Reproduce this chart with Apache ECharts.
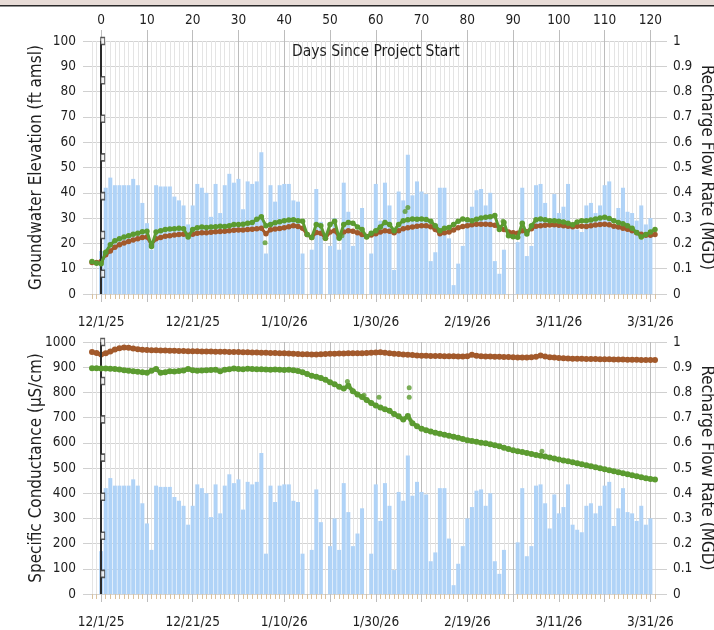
<!DOCTYPE html>
<html>
<head>
<meta charset="utf-8">
<script src="https://cdn.jsdelivr.net/npm/echarts@6/dist/echarts.min.js"></script>
<style>html,body{margin:0;padding:0;background:#fff}#c{width:714px;height:630px}</style>
</head>
<body>
<div id="c"></div>
<script>
// ---------------- DATA ----------------
const firstDay = -2;            // first logged day of the sensor series
const projectStartDay = 0;
const dayTicks = [0,10,20,30,40,50,60,70,80,90,100,110,120];
const dateTicks = [0,20,40,60,80,100,120];
const dateLabels = ['12/1/25','12/21/25','1/10/26','1/30/26','2/19/26','3/11/26','3/31/26'];

// Recharge flow rate (MGD), days 0..120
const recharge = [
  0.17,0.42,0.46,0.43,0.43,0.43,0.43,0.455,0.43,0.36,
  0.28,0.175,0.43,0.425,0.425,0.425,0.385,0.37,0.35,0.275,
  0.35,0.435,0.42,0.40,0.305,0.435,0.32,0.43,0.475,0.44,
  0.455,0.335,0.445,0.435,0.445,0.56,0.16,0.43,0.365,0.43,
  0.435,0.435,0.37,0.365,0.16,0,0.175,0.415,0.285,0,
  0.19,0.30,0.175,0.44,0.325,0.19,0.24,0.34,0,0.16,
  0.435,0.29,0.44,0.35,0.095,0.405,0.37,0.55,0.39,0.445,
  0.405,0.395,0.13,0.165,0.42,0.42,0.22,0.035,0.12,0.19,
  0.30,0.345,0.41,0.415,0.35,0.40,0.13,0.08,0.175,0,
  0,0.205,0.42,0.15,0.19,0.43,0.435,0.36,0.26,0.395,
  0.32,0.345,0.435,0.275,0.255,0.245,0.35,0.36,0.32,0.35,
  0.43,0.445,0.27,0.34,0.42,0.325,0.32,0.29,0.35,0.275,
  0.30
];

// Groundwater elevation (ft amsl), days -2..121
const gwBrown = [
  12.5,12.5,
  12.8,15.5,17,18.5,19.5,20.2,20.8,21.3,21.8,22.3,
  22.5,19.5,21.8,22.3,22.8,23,23.3,23.5,23.6,23.2,
  23.6,24,24.2,24.2,24.4,24.6,24.7,24.8,25,25.2,
  25.3,25.3,25.5,25.6,25.8,26,23.8,25.4,25.7,25.9,
  26.2,26.6,27,26.7,26,23.5,22.3,24.3,24,22,
  24.5,25,22.6,24.5,25,24.8,24.2,23.5,22.7,23.3,
  23.8,24.5,25,24.8,24.2,25,25.8,26.2,26.5,26.8,
  27,27,26.6,25.5,23.8,24.2,24.5,25.3,26.2,26.7,
  27,27.4,27.6,27.6,27.6,27.5,27.2,26.3,25.5,24.5,
  24.2,24,25,24.6,25.8,26.8,27,27.2,27.3,27.4,
  27.2,27,26.8,26.6,26.8,26.8,26.7,27,27.3,27.5,
  27.6,27.4,26.8,26.5,26,25.6,25,24.2,23.6,23.2,
  23.2,23.5
];
const gwGreen = [
  12.8,12.2,
  12,16.5,19.5,21,21.8,22.5,23,23.6,24,24.6,
  24.8,18.8,24.5,25,25.5,25.7,25.8,26,25.8,22.5,
  25.5,26.2,26.5,26.3,26.5,26.6,26.8,26.7,27,27.5,
  27.5,27.6,28,28.3,29.5,30.5,27,27.5,28.2,28.6,
  29,29.2,29.3,29,28.8,23.5,22.3,27.5,27,22,
  27.5,28.8,22,27.5,28.3,28,26.5,25.5,22.5,24,
  25,26.5,28.3,27.5,25,27.5,29,29.3,29.6,29.5,
  29.6,29.4,28.8,27,25,26,26.3,27.5,28.8,29.6,
  29.3,29,29.5,30,30.3,30.5,31,25.5,28.3,23,
  22.6,22.4,28,23.7,27,29.3,29.6,29.3,29,29,
  28.8,28.5,28,27.4,28.5,29,29,29.2,29.6,30,
  30.3,29.8,29,28.3,27.8,27,26,24.3,22.5,23.5,
  24.5,25.5
];
const gwGreenOutliers = [[35.8,20.3],[66.4,32.6],[67.0,34.2],[87.8,28.8],[52.6,23.0]];

// Specific conductance (uS/cm), days -2..121
const ecBrown = [
  960,956,
  950,955,962,970,975,978,977,974,971,969,
  968,967,967,966,966,965,965,964,964,963,
  963,963,962,962,962,961,961,961,960,960,
  960,959,959,958,958,957,957,956,956,955,
  955,954,953,952,951,951,950,950,951,952,
  953,953,954,954,955,955,955,955,956,957,
  958,959,957,955,953,952,950,949,948,946,
  945,945,944,944,944,943,943,943,942,942,
  943,949,945,943,942,942,941,941,940,940,
  939,938,938,938,939,941,946,942,939,938,
  937,936,935,934,934,934,933,933,933,932,
  932,932,931,931,931,930,930,930,929,929,
  929,929
];
const ecGreen = [
  896,896,
  895,895,894,893,891,888,886,884,882,880,
  878,886,893,878,880,884,883,885,887,893,
  888,886,887,888,889,890,884,890,892,895,
  893,892,894,893,892,892,891,890,891,890,
  889,890,888,885,880,873,866,862,857,850,
  840,832,822,815,826,805,792,782,770,758,
  748,740,733,727,714,705,692,706,678,666,
  656,650,645,640,636,632,628,624,620,615,
  610,607,604,600,598,594,590,586,580,575,
  570,566,563,560,556,552,549,546,542,538,
  534,530,527,523,519,515,511,507,503,499,
  495,491,487,483,479,475,471,467,463,459,
  456,454
];
const ecGreenOutliers = [[53.8,843],[57.4,789],[60.7,781],[67.3,818],[67.3,781],[96.3,566]];

// Small square markers on the project-start line
const startMarksTop = [100,84.5,69.3,54,38.7,23.3,8];
const startMarksBottom = [1000,845,693,541,386,231,80];

// ---------------- STYLE ----------------
const FONT = '"Liberation Sans Narrow","DejaVu Sans Condensed","Liberation Sans",sans-serif';
const GREEN = '#5b9b30';
const BROWN = '#a2592b';
const BAR = '#b0d3f7';
const TXT = '#1e1e1e';

const grids = [
  {left:92, right:59, top:41, height:253, outerBoundsMode:'none', containLabel:false},
  {left:92, right:59, top:342, height:252, outerBoundsMode:'none', containLabel:false}
];

function dailyAxis(g){
  return {type:'value', gridIndex:g, position:'bottom', min:firstDay, max:121, interval:1,
    axisLine:{show:false, onZero:false},
    axisTick:{show:true, length:5, lineStyle:{color:'#d9c29f', width:1}},
    axisLabel:{show:false},
    splitLine:{show:true, lineStyle:{color:'#e4e4e4', width:1}}};
}
function dateAxis(g){
  return {type:'value', gridIndex:g, position:'bottom', min:firstDay, max:121,
    axisLine:{show:false, onZero:false},
    axisTick:{show:true, customValues:dayTicks, length:8, lineStyle:{color:'#bdbdbd', width:1}},
    axisLabel:{show:true, customValues:dateTicks, margin:21, fontFamily:FONT, fontSize:13.5, color:TXT,
      formatter:v => dateLabels[dateTicks.indexOf(Math.round(v))]},
    splitLine:{show:true, lineStyle:{color:'#bcbcbc', width:1}}};
}
const xAxes = [
  dailyAxis(0), dateAxis(0),
  {type:'value', gridIndex:0, position:'top', min:firstDay, max:121,
    axisLine:{show:false, onZero:false},
    axisTick:{show:true, customValues:dayTicks, length:11, lineStyle:{color:'#bdbdbd', width:1}},
    axisLabel:{show:true, customValues:dayTicks, margin:14, fontFamily:FONT, fontSize:13.5, color:TXT},
    splitLine:{show:false}},
  dailyAxis(1), dateAxis(1)
];

function leftAxis(g, max, interval, name){
  return {type:'value', gridIndex:g, position:'left', min:0, max:max, interval:interval,
    name:name, nameLocation:'middle', nameGap:47, nameMoveOverlap:false,
    nameTextStyle:{fontFamily:FONT, fontSize:17, color:TXT},
    axisLine:{show:false, onZero:false},
    axisTick:{show:true, length:9, lineStyle:{color:'#d0d0d0'}},
    axisLabel:{margin:16, fontFamily:FONT, fontSize:13.5, color:TXT, formatter:v => String(Math.round(v))},
    splitLine:{show:true, lineStyle:{color:'#d3d3d3', width:1}}};
}
function rightAxis(g){
  return {type:'value', gridIndex:g, position:'right', min:0, max:1, interval:0.1,
    name:'Recharge Flow Rate (MGD)', nameLocation:'middle', nameGap:43, nameRotate:-90, nameMoveOverlap:false,
    nameTextStyle:{fontFamily:FONT, fontSize:17, color:TXT},
    axisLine:{show:false, onZero:false},
    axisTick:{show:true, length:12, lineStyle:{color:'#d0d0d0'}},
    axisLabel:{margin:18, fontFamily:FONT, fontSize:13.5, color:TXT, formatter:v => String(+(+v).toFixed(1))},
    splitLine:{show:false}};
}
const yAxes = [
  leftAxis(0, 100, 10, 'Groundwater Elevation (ft amsl)'), rightAxis(0),
  leftAxis(1, 1000, 100, 'Specific Conductance (\u00b5S/cm)'), rightAxis(1)
];

function panelSeries(xi, yl, yr, brown, green, outliers, marks, lw, sz){
  const toXY = arr => arr.map((v,i) => [firstDay + i, v]);
  return [
    {type:'bar', xAxisIndex:xi, yAxisIndex:yr, barWidth:4, itemStyle:{color:BAR},
      data: recharge.map((v,i) => [projectStartDay + i, v]), z:2, silent:true},
    {type:'line', xAxisIndex:xi, yAxisIndex:yl, data:toXY(brown), symbol:'circle', symbolSize:sz,
      showAllSymbol:true, lineStyle:{color:BROWN, width:lw}, itemStyle:{color:BROWN}, z:4},
    {type:'line', xAxisIndex:xi, yAxisIndex:yl, data:toXY(green), symbol:'circle', symbolSize:sz,
      showAllSymbol:true, lineStyle:{color:GREEN, width:lw}, itemStyle:{color:GREEN}, z:5},
    {type:'scatter', xAxisIndex:xi, yAxisIndex:yl, data:outliers, symbol:'circle', symbolSize:5,
      itemStyle:{color:GREEN}, z:5},
    {type:'scatter', xAxisIndex:xi, yAxisIndex:yl, data:marks.map(v => [projectStartDay, v]),
      symbol:'rect', symbolSize:[4,7], symbolOffset:[1.5,0],
      itemStyle:{color:'#f4f4f4', borderColor:'#333', borderWidth:1.2}, z:7,
      markLine:{silent:true, symbol:['none','none'], label:{show:false},
        lineStyle:{color:'#2b2b2b', width:2, type:'solid'}, data:[{xAxis:projectStartDay}]}}
  ];
}

const option = {
  animation:false,
  backgroundColor:'#ffffff',
  grid: grids,
  xAxis: xAxes,
  yAxis: yAxes,
  graphic:[
    {type:'rect', left:0, top:0, shape:{width:714, height:5}, style:{fill:'#e8dcd7'}, z:10},
    {type:'rect', left:0, top:5, shape:{width:714, height:1.5}, style:{fill:'#2a2a2a'}, z:10},
    {type:'text', left:292, top:44, z:10,
      style:{text:'Days Since Project Start', fontFamily:FONT, fontSize:15.5, fill:TXT}}
  ],
  series: [
    ...panelSeries(0, 0, 1, gwBrown, gwGreen, gwGreenOutliers, startMarksTop, 3, 5.5),
    ...panelSeries(3, 2, 3, ecBrown, ecGreen, ecGreenOutliers, startMarksBottom, 4, 6)
  ]
};
const chart = echarts.init(document.getElementById('c'), null, {renderer:'canvas'});
chart.setOption(option);
</script>
</body>
</html>
